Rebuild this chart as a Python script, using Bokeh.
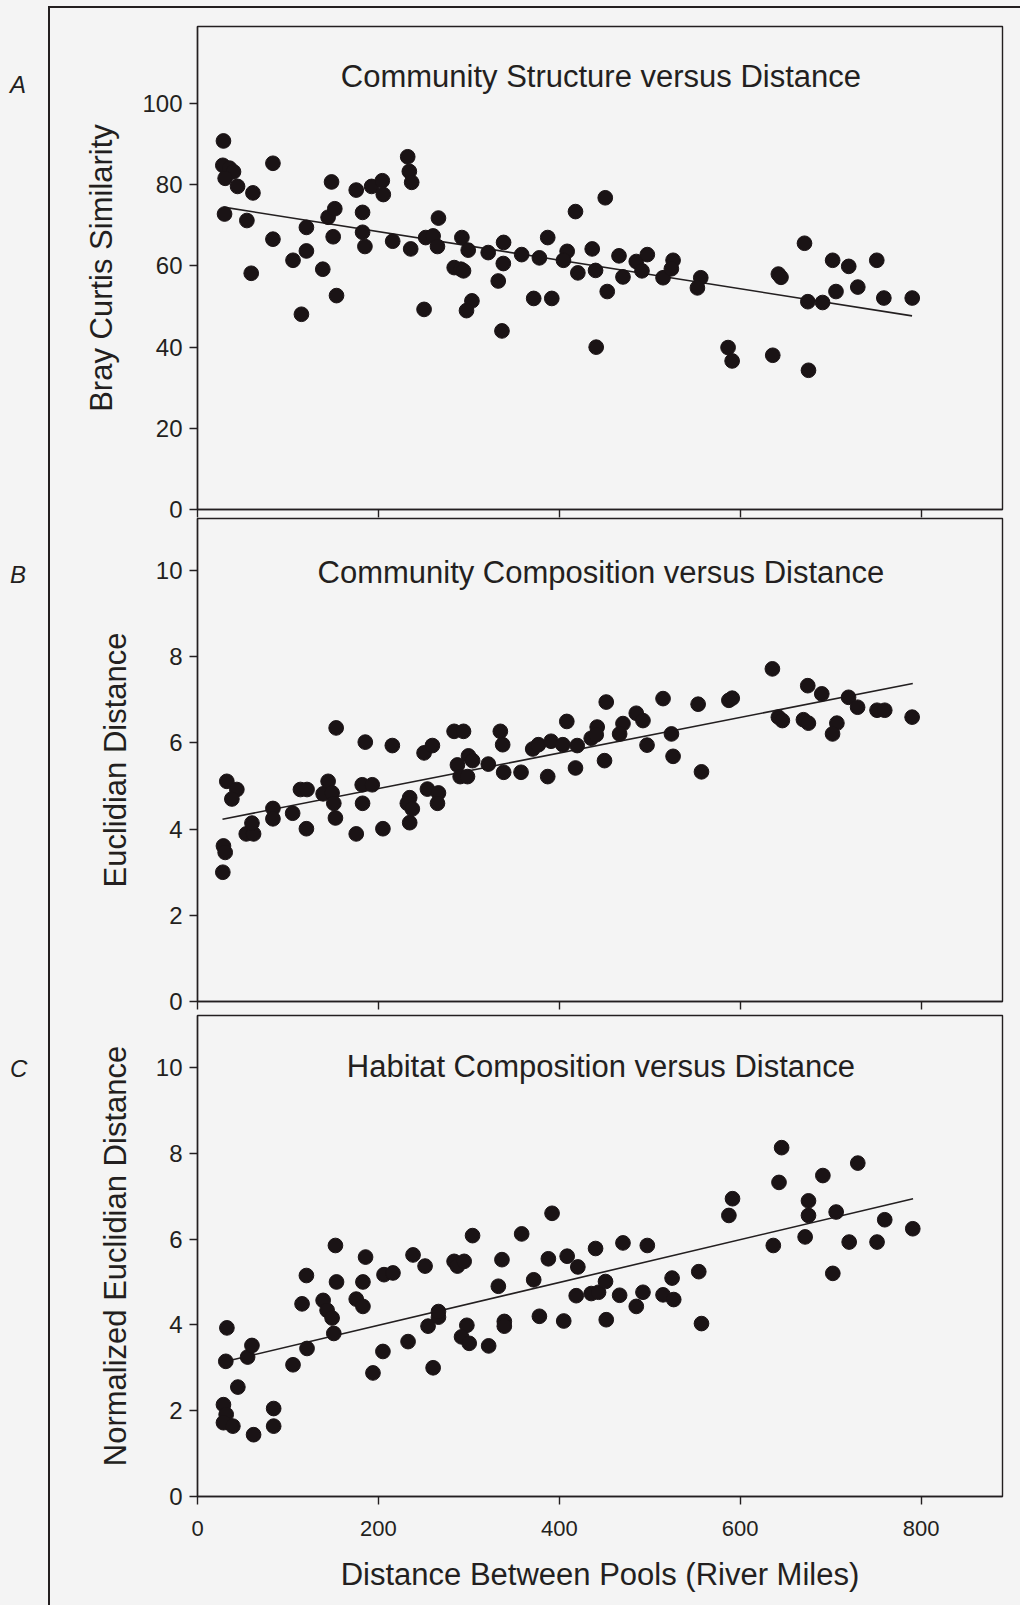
from bokeh.plotting import figure
from bokeh.layouts import column, row
from bokeh.models import Range1d, FixedTicker, Label, Div, CustomJSTickFormatter
from bokeh.embed import file_html
from bokeh.resources import INLINE

# ---------------- data ----------------
x_ticks = [0, 200, 400, 600, 800]
x_title = "Distance Between Pools (River Miles)"

# Panel A: Bray Curtis similarity
a_dist = [28.7, 28.0, 35.4, 39.8, 30.6, 44.3, 61.3, 83.4, 29.9, 54.6, 83.4, 59.4, 105.6,
          120.4, 120.4, 138.5, 144.4, 151.8, 150.0, 153.7, 148.2, 114.9, 175.5, 182.5,
          182.5, 185.1, 192.5, 204.3, 205.4, 215.8, 232.4, 234.2, 236.8, 235.7, 252.3,
          260.5, 265.3, 266.4, 250.5, 283.8, 291.2, 294.1, 292.3, 299.3, 303.4, 297.4,
          321.4, 332.5, 338.4, 338.1, 336.6, 358.4, 371.7, 378.0, 387.2, 391.7, 408.7,
          404.6, 417.9, 420.5, 436.4, 440.1, 440.8, 450.8, 453.0, 466.0, 470.4, 485.1,
          497.3, 491.4, 514.7, 525.8, 523.9, 556.4, 552.7, 586.6, 591.1, 642.2, 645.1,
          636.0, 671.1, 674.8, 691.1, 675.5, 702.2, 720.0, 705.9, 730.0, 751.0, 758.8,
          790.2]
a_sim = [90.8, 84.8, 84.1, 83.2, 81.6, 79.6, 78.0, 85.3, 72.8, 71.2, 66.6, 58.2, 61.4,
         69.5, 63.7, 59.2, 72.0, 74.1, 67.2, 52.7, 80.7, 48.1, 78.7, 73.2, 68.3, 64.8,
         79.6, 81.0, 77.6, 66.1, 86.9, 83.3, 80.6, 64.2, 67.0, 67.4, 64.8, 71.8, 49.3,
         59.6, 59.2, 58.8, 67.0, 63.9, 51.4, 49.0, 63.3, 56.3, 65.8, 60.6, 44.0, 62.8,
         52.0, 62.0, 67.0, 52.0, 63.6, 61.4, 73.4, 58.3, 64.2, 58.9, 40.0, 76.8, 53.7,
         62.5, 57.3, 61.1, 62.8, 58.8, 57.1, 61.4, 59.3, 57.1, 54.6, 39.9, 36.6, 58.0,
         57.2, 38.0, 65.6, 51.2, 51.0, 34.3, 61.4, 59.9, 53.7, 54.8, 61.4, 52.1, 52.1]
a_fit_x = [28.7, 790.0]
a_fit_y = [74.5, 47.7]
a_ticks = [0, 20, 40, 60, 80, 100]

# Panel B: Euclidian distance
b_dist = [28.0, 28.7, 30.6, 32.4, 43.5, 38.0, 53.9, 62.0, 60.2, 83.4, 83.4, 105.2, 120.4,
          113.8, 121.1, 138.9, 144.4, 148.8, 150.7, 152.5, 153.3, 175.5, 182.1, 193.2,
          182.5, 185.5, 205.0, 215.4, 234.6, 234.6, 232.0, 237.5, 254.2, 266.4, 265.3,
          250.5, 259.7, 283.7, 294.1, 287.4, 290.4, 298.5, 299.6, 304.1, 321.5, 334.8,
          337.4, 338.5, 357.7, 370.6, 376.9, 390.9, 403.9, 419.8, 387.2, 408.3, 417.9,
          435.3, 441.9, 440.8, 451.9, 450.0, 470.4, 466.7, 485.1, 492.5, 497.0, 514.7,
          524.0, 525.8, 553.5, 557.2, 587.5, 591.2, 635.6, 642.2, 646.6, 669.9, 675.4,
          674.7, 690.2, 706.9, 702.1, 719.8, 729.8, 751.3, 759.8, 790.1]
b_euc = [3.00, 3.61, 3.46, 5.11, 4.92, 4.70, 3.89, 3.89, 4.14, 4.48, 4.24, 4.37, 4.01,
         4.92, 4.92, 4.82, 5.11, 4.84, 4.60, 4.26, 6.35, 3.89, 5.03, 5.03, 4.60, 6.02,
         4.01, 5.94, 4.15, 4.73, 4.60, 4.47, 4.93, 4.84, 4.60, 5.77, 5.94, 6.27, 6.27,
         5.49, 5.22, 5.22, 5.70, 5.59, 5.51, 6.27, 5.96, 5.32, 5.32, 5.86, 5.96, 6.04,
         5.96, 5.94, 5.22, 6.50, 5.42, 6.11, 6.37, 6.19, 6.95, 5.59, 6.45, 6.21, 6.69,
         6.52, 5.95, 7.03, 6.21, 5.69, 6.90, 5.33, 6.99, 7.04, 7.72, 6.60, 6.52, 6.54,
         6.46, 7.33, 7.14, 6.46, 6.21, 7.06, 6.83, 6.76, 6.76, 6.60]
b_fit_x = [27.6, 790.8]
b_fit_y = [4.23, 7.38]
bc_ticks = [0, 2, 4, 6, 8, 10]

# Panel C: normalized Euclidian distance (habitat)
c_dist = [32.5, 31.3, 55.4, 60.2, 44.6, 28.7, 31.7, 28.7, 39.1, 62.0, 84.2, 84.2, 105.6,
          121.1, 115.6, 120.4, 138.9, 143.3, 148.8, 150.7, 152.5, 153.7, 175.5, 182.9,
          182.9, 185.8, 194.0, 205.0, 206.2, 216.1, 232.8, 238.3, 251.6, 254.9, 260.5,
          266.4, 266.4, 283.7, 287.4, 294.8, 304.1, 297.8, 291.9, 300.4, 321.9, 336.6,
          332.6, 339.2, 339.2, 358.4, 371.7, 378.0, 387.9, 392.0, 404.9, 408.7, 420.5,
          418.7, 440.1, 435.3, 443.4, 451.1, 451.9, 470.4, 466.7, 485.1, 492.5, 497.3,
          514.7, 526.5, 524.7, 554.2, 557.2, 587.5, 591.5, 636.6, 642.9, 645.8, 671.8,
          675.5, 675.5, 691.4, 702.4, 706.1, 720.5, 730.0, 751.3, 759.8, 790.8]
c_neuc = [3.93, 3.15, 3.25, 3.52, 2.55, 2.14, 1.91, 1.72, 1.64, 1.44, 2.05, 1.64, 3.07,
          3.45, 4.49, 5.15, 4.57, 4.34, 4.16, 3.80, 5.85, 5.00, 4.60, 4.43, 5.00, 5.58,
          2.88, 3.38, 5.17, 5.21, 3.61, 5.63, 5.37, 3.97, 3.00, 4.18, 4.31, 5.48, 5.37,
          5.48, 6.08, 3.99, 3.72, 3.57, 3.51, 5.52, 4.90, 4.08, 3.97, 6.12, 5.05, 4.20,
          5.54, 6.60, 4.09, 5.60, 5.35, 4.68, 5.78, 4.73, 4.76, 5.01, 4.12, 5.91, 4.69,
          4.43, 4.76, 5.85, 4.70, 4.59, 5.09, 5.24, 4.03, 6.55, 6.94, 5.85, 7.32, 8.13,
          6.05, 6.89, 6.55, 7.48, 5.20, 6.63, 5.93, 7.77, 5.93, 6.45, 6.24]
c_fit_x = [29.6, 791.1]
c_fit_y = [3.14, 6.94]

titles = ["Community Structure versus Distance",
          "Community Composition versus Distance",
          "Habitat Composition versus Distance"]
y_titles = ["Bray Curtis Similarity", "Euclidian Distance", "Normalized Euclidian Distance"]
panel_letters = ["A", "B", "C"]

# ---------------- styling ----------------
BG = "#f4f4f4"
INK = "#231f20"
DOT = "#1a1315"
FONT = "Liberation Sans"
LINE = "2px solid " + INK


def make_panel(height, top, bottom, ymax, yticks, title, title_y, ylabel,
               xs, ys, fx, fy, show_x_labels, styles, margin):
    p = figure(width=970, height=height,
               x_range=Range1d(0, 890), y_range=Range1d(0, ymax),
               output_backend="svg", toolbar_location=None,
               min_border_left=147, min_border_right=20,
               min_border_top=top, min_border_bottom=bottom,
               background_fill_color=BG, border_fill_color=BG,
               styles=styles, margin=margin)
    p.grid.visible = False
    p.outline_line_color = INK
    p.outline_line_width = 1.4

    for ax in (p.xaxis[0], p.yaxis[0]):
        ax.axis_line_color = INK
        ax.axis_line_width = 1.4
        ax.major_tick_line_color = INK
        ax.major_tick_line_width = 1.4
        ax.major_tick_in = 0
        ax.major_tick_out = 8
        ax.minor_tick_line_color = None
        ax.major_label_text_font = FONT
        ax.major_label_text_color = INK
        ax.axis_label_text_font = FONT
        ax.axis_label_text_color = INK
        ax.axis_label_text_font_style = "normal"
        ax.axis_label_text_font_size = "31px"

    p.xaxis.ticker = FixedTicker(ticks=x_ticks)
    p.yaxis.ticker = FixedTicker(ticks=yticks)
    p.yaxis.major_label_text_font_size = "24px"
    p.yaxis.major_label_standoff = 7
    p.yaxis.axis_label = ylabel
    p.yaxis.axis_label_standoff = 20

    if show_x_labels:
        p.xaxis.major_label_text_font_size = "22px"
        p.xaxis.major_label_standoff = 16
        p.xaxis.axis_label = x_title
        p.xaxis.axis_label_standoff = 18
    else:
        p.xaxis.formatter = CustomJSTickFormatter(code="return ''")
        p.xaxis.major_label_text_font_size = "1px"
        p.xaxis.major_label_standoff = 0

    p.line(fx, fy, line_color=INK, line_width=1.6)
    p.scatter(xs, ys, size=14.7, fill_color=DOT, line_color=DOT)

    p.add_layout(Label(x=446, y=title_y, text=title, text_align="center",
                       text_baseline="middle", text_font=FONT,
                       text_font_size="31px", text_color=INK))
    return p


p1 = make_panel(515, 18, 16, 119, a_ticks, titles[0], 106.8, y_titles[0],
                a_dist, a_sim, a_fit_x, a_fit_y, False,
                {"box-sizing": "content-box", "border-left": LINE, "border-top": LINE},
                (6, 0, 0, 0))
p2 = make_panel(497, 1, 13, 11.21, bc_ticks, titles[1], 9.965, y_titles[1],
                b_dist, b_euc, b_fit_x, b_fit_y, False,
                {"box-sizing": "content-box", "border-left": LINE},
                (-6, 0, 0, 0))
p3 = make_panel(591, 1, 109, 11.21, bc_ticks, titles[2], 10.01, y_titles[2],
                c_dist, c_neuc, c_fit_x, c_fit_y, True,
                {"box-sizing": "content-box", "border-left": LINE},
                (0, 0, 0, 0))

letter_tops = [73, 563, 1057]
spans = "".join(
    '<span style="position:absolute;left:10px;top:%dpx;font-style:italic;font-size:24px;'
    'line-height:1;font-family:\'Liberation Sans\',sans-serif;color:%s">%s</span>' % (t, INK, l)
    for t, l in zip(letter_tops, panel_letters))
letters = Div(text='<div style="position:relative;width:48px;height:1600px">%s</div>' % spans,
              width=48, height=1605, margin=0,
              styles={"background-color": BG})

layout = row(letters, column(p1, p2, p3), styles={"background-color": BG})

open("out.html", "w").write(file_html(layout, INLINE))
